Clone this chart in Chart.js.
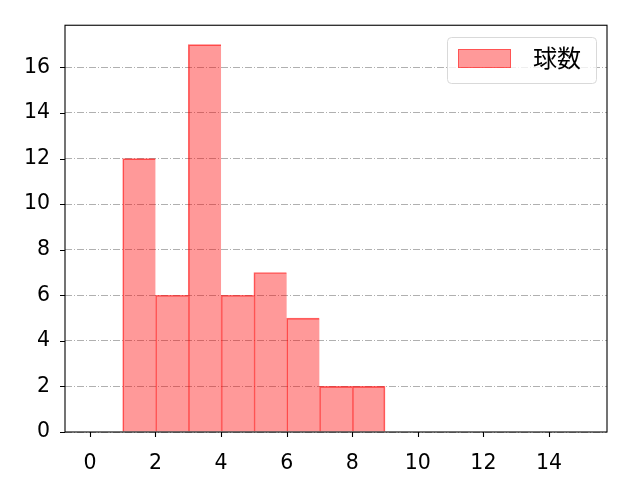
<!DOCTYPE html>
<html>
<head>
<meta charset="utf-8">
<script src="https://cdn.jsdelivr.net/npm/chart.js@4"></script>
<style>
  html, body { margin: 0; padding: 0; background: #fff; }
  #wrap { width: 640px; height: 480px; }
</style>
</head>
<body>
<div id="wrap"><canvas id="hist"></canvas></div>
<script>
// histogram bins (left edges) and counts
const binStarts = [1, 2, 3, 4, 5, 6, 7, 8];
const counts = [12, 6, 17, 6, 7, 5, 2, 2];
const xTicks = [0, 2, 4, 6, 8, 10, 12, 14];
const yTicks = [0, 2, 4, 6, 8, 10, 12, 14, 16];
const seriesLabel = '球数';

const tickFont = { family: 'DejaVu Sans', size: 20.5, lineHeight: 1 };

// frame, tick marks and legend like matplotlib
const framePlugin = {
    id: 'frame',
    afterDraw(chart) {
        const { ctx, chartArea: a, scales } = chart;
        ctx.save();
        ctx.strokeStyle = '#000';
        ctx.lineWidth = 1.1;
        ctx.strokeRect(a.left, a.top, a.right - a.left, a.bottom - a.top);
        ctx.beginPath();
        xTicks.forEach(v => {
            const px = Math.round(scales.x.getPixelForValue(v)) + 0.5;
            ctx.moveTo(px, a.bottom);
            ctx.lineTo(px, a.bottom + 5);
        });
        yTicks.forEach(v => {
            const py = Math.round(scales.y.getPixelForValue(v)) + 0.5;
            ctx.moveTo(a.left, py);
            ctx.lineTo(a.left - 5, py);
        });
        ctx.stroke();

        // legend box
        const bx = 447.5, by = 37.5, bw = 149, bh = 46, r = 4;
        ctx.beginPath();
        ctx.moveTo(bx + r, by);
        ctx.arcTo(bx + bw, by, bx + bw, by + bh, r);
        ctx.arcTo(bx + bw, by + bh, bx, by + bh, r);
        ctx.arcTo(bx, by + bh, bx, by, r);
        ctx.arcTo(bx, by, bx + bw, by, r);
        ctx.closePath();
        ctx.fillStyle = 'rgba(255,255,255,0.8)';
        ctx.fill();
        ctx.strokeStyle = '#d9d9d9';
        ctx.lineWidth = 1;
        ctx.stroke();
        ctx.fillStyle = 'rgba(255,0,0,0.4)';
        ctx.fillRect(458, 49, 53, 19);
        ctx.strokeStyle = 'rgba(255,0,0,0.45)';
        ctx.strokeRect(458.5, 49.5, 52, 18);
        ctx.fillStyle = '#000';
        ctx.font = '24px "Noto Sans CJK JP"';
        ctx.textBaseline = 'middle';
        ctx.fillText(seriesLabel, 533, 58);
        ctx.restore();
    }
};

new Chart(document.getElementById('hist'), {
    type: 'bar',
    data: {
        datasets: [{
            label: seriesLabel,
            data: binStarts.map((s, i) => ({ x: s + 0.5, y: counts[i] })),
            backgroundColor: 'rgba(255,0,0,0.4)',
            borderColor: 'rgba(255,0,0,0.6)',
            borderWidth: ctx => ({
                left: 1, top: 1, bottom: 0,
                right: ctx.dataIndex === counts.length - 1 ? 1 : 0
            }),
            borderSkipped: false,
            barPercentage: 1,
            categoryPercentage: 1
        }]
    },
    options: {
        responsive: true,
        maintainAspectRatio: false,
        animation: false,
        layout: { padding: { top: 24, right: 33, left: 0, bottom: 0 } },
        plugins: {
            legend: { display: false },
            tooltip: { enabled: false }
        },
        scales: {
            x: {
                type: 'linear',
                offset: false,
                min: -0.76,
                max: 15.77,
                afterBuildTicks: s => { s.ticks = xTicks.map(v => ({ value: v })); },
                afterFit: s => { s.height = 48; },
                grid: { display: false },
                border: { display: false },
                ticks: { font: tickFont, color: '#000', padding: 13, maxRotation: 0 }
            },
            y: {
                min: 0,
                max: 17.85,
                afterBuildTicks: s => { s.ticks = yTicks.map(v => ({ value: v })); },
                afterFit: s => { s.width = 65; },
                grid: {
                    color: '#b0b0b0',
                    lineWidth: 1,
                    drawTicks: false
                },
                border: { display: false, dash: [7, 2, 1, 2] },
                ticks: { font: tickFont, color: '#000', padding: 15 }
            }
        }
    },
    plugins: [framePlugin]
});
</script>
</body>
</html>
